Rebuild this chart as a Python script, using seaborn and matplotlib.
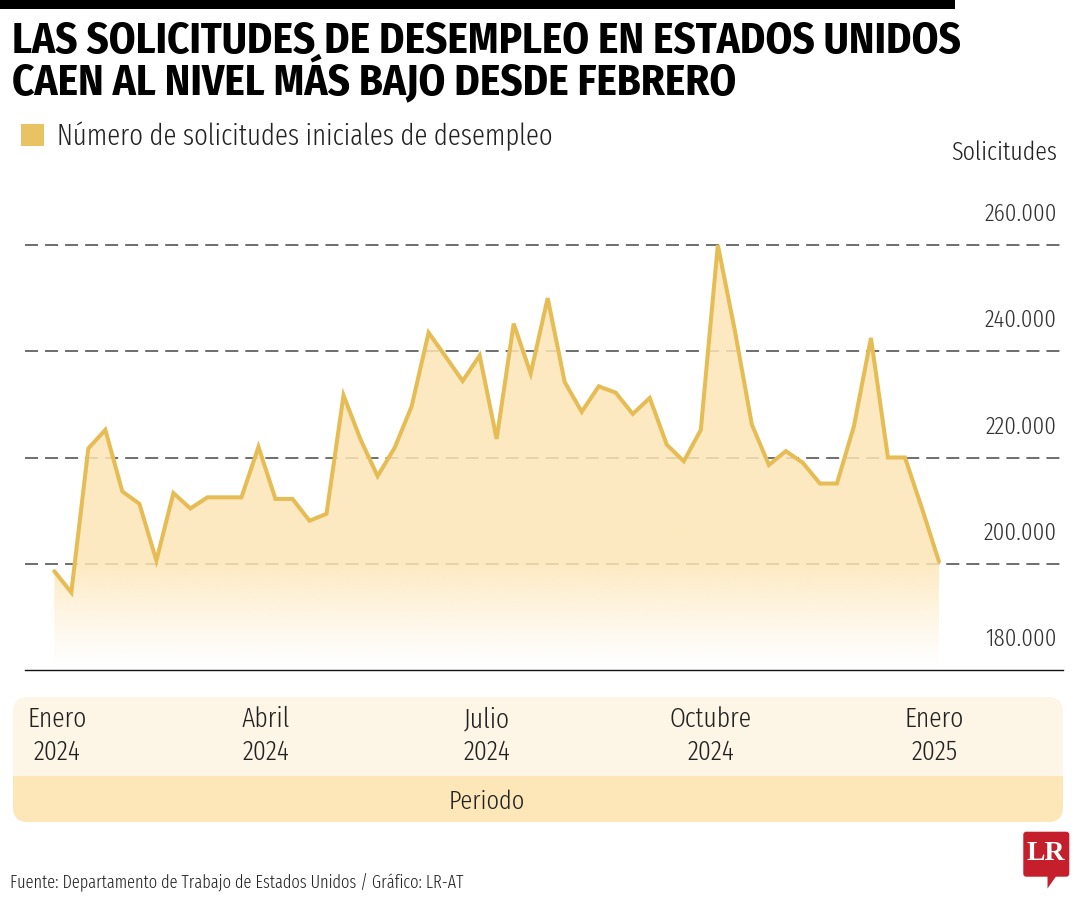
import numpy as np
import pandas as pd
import matplotlib
matplotlib.use("Agg")
import matplotlib.pyplot as plt
import matplotlib.dates as mdates
from matplotlib.patches import FancyBboxPatch, Rectangle, Polygon, Patch
from matplotlib.transforms import ScaledTranslation
from matplotlib import font_manager as fm
import seaborn as sns

# ---------------- data ----------------
first_week = "2024-01-06"
claims = [198600, 194600, 221700, 225200, 213600, 211300, 200600, 213300, 210400, 212500,
          212500, 212500, 222000, 212200, 212200, 208100, 209400, 231700, 223400, 216500,
          221800, 229600, 243500, 239000, 234400, 239200, 223500, 245200, 235800, 250000,
          234200, 228600, 233400, 232200, 228200, 231200, 222400, 219300, 225200, 260000,
          243900, 226200, 218600, 221200, 219000, 215100, 215100, 225900, 242500, 220000,
          220000, 210400, 200400]
tick_dates = ["2024-01-07", "2024-04-02", "2024-07-02", "2024-10-02", "2025-01-02"]
tick_labels = ["Enero\n2024", "Abril\n2024", "Julio\n2024", "Octubre\n2024", "Enero\n2025"]
y_ticks = [180000, 200000, 220000, 240000, 260000]
y_tick_labels = ["180.000", "200.000", "220.000", "240.000", "260.000"]
grid_values = [200000, 220000, 240000, 260000]

title_lines = ["LAS SOLICITUDES DE DESEMPLEO EN ESTADOS UNIDOS",
               "CAEN AL NIVEL MÁS BAJO DESDE FEBRERO"]
legend_label = "Número de solicitudes iniciales de desempleo"
y_title = "Solicitudes"
x_title = "Periodo"
source = "Fuente: Departamento de Trabajo de Estados Unidos / Gráfico: LR-AT"

week_dates = pd.date_range(first_week, periods=len(claims), freq="7D")
df = pd.DataFrame({"semana": week_dates, "solicitudes": claims})

# ---------------- style ----------------
sns.set_style("white")
names = {f.name for f in fm.fontManager.ttflist}


def pick(*cands):
    for c in cands:
        if c in names:
            return c
    return "DejaVu Sans"


BODY = pick("Fira Sans Extra Condensed", "Fira Sans Condensed")
HEAD = pick("Fira Sans Condensed", "Fira Sans Extra Condensed")
SERIF = pick("Liberation Serif", "DejaVu Serif")
plt.rcParams["font.family"] = [BODY, "DejaVu Sans"]

LINE = "#E6BC55"
FILL = (253 / 255, 230 / 255, 182 / 255)
LEG = "#E9C263"
GRID = "#6E6E6E"
TXT = "#222222"
LIGHT = 300

W, H = 1080, 900
fig = plt.figure(figsize=(W / 100, H / 100), dpi=100)
fig.patch.set_facecolor("white")
renderer = fig.canvas.get_renderer()


def fit(text, target_px, **kw):
    t = fig.text(0, 0, text, fontsize=20, **kw)
    w = t.get_window_extent(renderer).width
    t.remove()
    return 20 * target_px / w


fs_title = fit(title_lines[0], 948, fontweight="bold", family=HEAD)
fs_leg = fit(legend_label, 494, fontweight=LIGHT)
fs_ytitle = fit(y_title, 105, fontweight=LIGHT)
fs_ytick = fit("260.000", 72, fontweight=LIGHT)
fs_xtick = fit("Octubre", 82, fontweight=LIGHT)
fs_xtitle = fit(x_title, 76, fontweight=LIGHT)
fs_src = fit(source, 453, fontweight=LIGHT)

ax_l, ax_r, ax_b, ax_t = 25, 1063, 670, 200
ax = fig.add_axes([ax_l / W, 1 - ax_b / H, (ax_r - ax_l) / W, (ax_b - ax_t) / H])
ax.set_facecolor("none")

ytop = 180000 + 80000 * (ax_b - ax_t) / (ax_b - 245)
d0 = mdates.date2num(week_dates[0])
px_day = (939 - 54.3) / 364
x0 = d0 - (54.3 - ax_l) / px_day
x1 = d0 + (ax_r - 54.3) / px_day

# grid lines
for g in grid_values:
    ax.axhline(g, color=GRID, lw=1.4, linestyle=(0, (6.7, 3.6)), zorder=1)

# gradient fill under the line
fill = ax.fill_between(df["semana"], df["solicitudes"], 180000, color="none", lw=0)
path = fill.get_paths()[0]
nrow = 400
yy = np.linspace(ytop, 180000, nrow)
alpha = np.clip((yy - 180500) / (200000 - 180500), 0, 1) ** 1.2
grad = np.zeros((nrow, 1, 4))
grad[:, 0, 0] = FILL[0]
grad[:, 0, 1] = FILL[1]
grad[:, 0, 2] = FILL[2]
grad[:, 0, 3] = alpha * 0.85
im = ax.imshow(grad, extent=[x0, x1, 180000, ytop], aspect="auto", origin="upper",
               zorder=2, interpolation="bilinear")
im.set_clip_path(path, transform=ax.transData)

sns.lineplot(data=df, x="semana", y="solicitudes", ax=ax, color=LINE, lw=2.9,
             zorder=4, solid_joinstyle="miter")
ax.set_xlabel("")
ax.set_ylabel("")
ax.set_xlim(x0, x1)
ax.set_ylim(180000, ytop)

for s in ["top", "left", "right"]:
    ax.spines[s].set_visible(False)
ax.spines["bottom"].set_color("#111111")
ax.spines["bottom"].set_linewidth(1.0)

# x ticks
ax.set_xticks(pd.to_datetime(tick_dates), tick_labels)
ax.tick_params(axis="x", direction="out", length=10, width=1, color="#444444",
               pad=16, labelsize=fs_xtick, labelcolor=TXT)
for lbl in ax.get_xticklabels():
    lbl.set_linespacing(1.3)
    lbl.set_fontweight(LIGHT)

# y ticks on the right, above the grid lines
ax.yaxis.tick_right()
ax.set_yticks(y_ticks, y_tick_labels)
ax.tick_params(axis="y", length=0, pad=-4.3, labelsize=fs_ytick, labelcolor="#333333",
               left=False, labelleft=False, right=False, labelright=True)
offset = ScaledTranslation(0, 0.33, fig.dpi_scale_trans)
for lbl in ax.get_yticklabels():
    lbl.set_ha("right")
    lbl.set_fontweight(LIGHT)
    lbl.set_transform(lbl.get_transform() + offset)

# ---------------- decorations ----------------
inch = fig.dpi_scale_trans
fig.add_artist(Rectangle((0, (H - 9) / 100), 955 / 100, 9 / 100, transform=inch,
                         facecolor="black", edgecolor="none", zorder=-5))
bx0, bx1, by_top, by_mid, by_bot = 13, 1063, 697, 776, 822
fig.add_artist(FancyBboxPatch((bx0 / 100, (H - by_bot) / 100), (bx1 - bx0) / 100,
                              (by_bot - by_top) / 100, boxstyle="round,pad=0,rounding_size=0.15",
                              transform=inch, facecolor="#FDF6E7", edgecolor="none", zorder=-6))
fig.add_artist(FancyBboxPatch((bx0 / 100, (H - by_bot) / 100), (bx1 - bx0) / 100,
                              (by_bot - by_mid + 16) / 100, boxstyle="round,pad=0,rounding_size=0.15",
                              transform=inch, facecolor="#FDE7B9", edgecolor="none", zorder=-5))
fig.add_artist(Rectangle((bx0 / 100, (H - by_mid) / 100), (bx1 - bx0) / 100, 17 / 100,
                         transform=inch, facecolor="#FDF6E7", edgecolor="none", zorder=-4))

# titles
fig.text(12 / W, 1 - 42 / H, title_lines[0], fontsize=fs_title, fontweight="bold",
         family=HEAD, color="black", va="center", ha="left")
fig.text(12 / W, 1 - 80 / H, title_lines[1], fontsize=fs_title, fontweight="bold",
         family=HEAD, color="black", va="center", ha="left")

# legend
hsz = 23 / (fs_leg * 100 / 72)
fig.legend(handles=[Patch(facecolor=LEG, edgecolor="none")], labels=[legend_label],
           loc="center left", bbox_to_anchor=(21 / W, 1 - 136 / H), frameon=False,
           prop={"family": [BODY, "DejaVu Sans"], "size": fs_leg, "weight": LIGHT},
           handlelength=hsz, handleheight=hsz, handletextpad=13 / (fs_leg * 100 / 72),
           borderpad=0, borderaxespad=0, labelcolor=TXT)

fig.text(1057 / W, 1 - 153 / H, y_title, fontsize=fs_ytitle, fontweight=LIGHT,
         color=TXT, ha="right", va="center")
fig.text(487 / W, 1 - 802 / H, x_title, fontsize=fs_xtitle, fontweight=LIGHT,
         color=TXT, ha="center", va="center")
fig.text(10 / W, 1 - 882 / H, source, fontsize=fs_src, fontweight=LIGHT,
         color=TXT, ha="left", va="center")

# LR logo
RED = "#C41F2B"
fig.add_artist(FancyBboxPatch((1023.3 / 100, (H - 876.7) / 100), 46 / 100, 45 / 100,
                              boxstyle="round,pad=0,rounding_size=0.03", transform=inch,
                              facecolor=RED, edgecolor="none", zorder=3))
fig.add_artist(Polygon([(1047.5 / 100, (H - 875) / 100), (1047.5 / 100, (H - 888.5) / 100),
                        (1057 / 100, (H - 875) / 100)], closed=True, transform=inch,
                       facecolor=RED, edgecolor="none", zorder=3))
fig.text(1046 / W, 1 - 854 / H, "LR", fontsize=20, fontweight="bold", color="white",
         ha="center", va="center", family=SERIF, zorder=4)

fig.savefig("out.png", dpi=100, facecolor="white")
